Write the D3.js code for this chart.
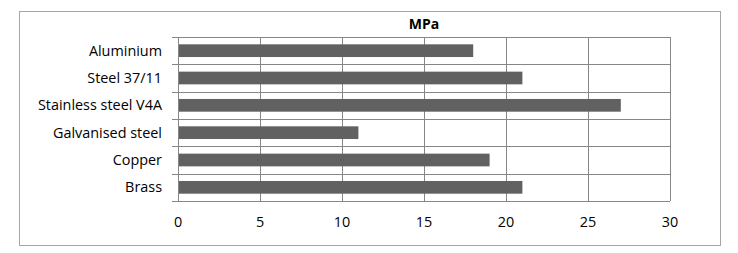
<!DOCTYPE html>
<html>
<head>
<meta charset="utf-8">
<script src="https://cdn.jsdelivr.net/npm/d3@7"></script>
<style>
  body { margin: 0; background: #fff; }
  svg text { font-family: "Open Sans", "Noto Sans", sans-serif; }
</style>
</head>
<body>
<div id="chart"></div>
<script>
// chart values, top row first
const materials = ["Aluminium", "Steel 37/11", "Stainless steel V4A", "Galvanised steel", "Copper", "Brass"];
const mpa = [18, 21, 27, 11, 19, 21];
const xTicks = [0, 5, 10, 15, 20, 25, 30];
const title = "MPa";

const width = 738, height = 253;
let margin = {top: 37, right: 68, bottom: 52, left: 178};

let svg = d3.select("#chart").append("svg")
    .attr("width", width)
    .attr("height", height);

// outer frame
svg.append("rect")
    .attr("x", 19.5).attr("y", 11.5)
    .attr("width", 701).attr("height", 234)
    .attr("fill", "#fff")
    .attr("stroke", "#a6a6a6")
    .attr("stroke-width", 1);

const x = d3.scaleLinear()
    .domain([0, 30])
    .range([margin.left, width - margin.right]);

const y = d3.scaleBand()
    .domain(materials)
    .range([margin.top, height - margin.bottom])
    .paddingInner(0.535)
    .paddingOuter(0.2675);

const yGrid = d3.scaleBand()
    .domain(materials)
    .range([margin.top, height - margin.bottom]);

const g = svg.append("g");

// vertical grid lines
g.selectAll("line.vgrid")
  .data(xTicks)
  .enter()
  .append("line")
    .attr("class", "vgrid")
    .attr("x1", d => Math.round(x(d)) + 0.5)
    .attr("x2", d => Math.round(x(d)) + 0.5)
    .attr("y1", margin.top)
    .attr("y2", height - margin.bottom)
    .style("stroke", "#868686");

// horizontal lines between categories (with small tick out to the left)
const bounds = materials.map(m => yGrid(m)).concat([height - margin.bottom]);
g.selectAll("line.hgrid")
  .data(bounds)
  .enter()
  .append("line")
    .attr("class", "hgrid")
    .attr("x1", margin.left - 6)
    .attr("x2", x(30))
    .attr("y1", d => Math.round(d) + 0.5)
    .attr("y2", d => Math.round(d) + 0.5)
    .style("stroke", "#868686");

// bars
g.selectAll("rect.bar")
  .data(materials)
  .enter()
  .append("rect")
    .attr("class", "bar")
    .attr("x", x(0) + 1)
    .attr("y", d => y(d))
    .attr("width", (d, i) => x(mpa[i]) - x(0) - 1)
    .attr("height", y.bandwidth())
    .style("fill", "#616161");

// category labels
g.selectAll("text.cat")
  .data(materials)
  .enter()
  .append("text")
    .attr("class", "cat")
    .attr("x", margin.left - 16)
    .attr("y", d => y(d) + y.bandwidth() / 2)
    .attr("dy", "0.35em")
    .attr("text-anchor", "end")
    .style("font-size", "14.4px")
    .style("fill", "#000")
    .text(d => d);

// value axis labels
g.selectAll("text.tick")
  .data(xTicks)
  .enter()
  .append("text")
    .attr("class", "tick")
    .attr("x", d => x(d))
    .attr("y", 222)
    .attr("dy", "0.35em")
    .attr("text-anchor", "middle")
    .style("font-size", "14.4px")
    .style("fill", "#000")
    .text(d => d);

// title
svg.append("text")
    .attr("x", (x(0) + x(30)) / 2)
    .attr("y", 29)
    .attr("text-anchor", "middle")
    .style("font-size", "14px")
    .style("font-weight", "bold")
    .text(title);
</script>
</body>
</html>
